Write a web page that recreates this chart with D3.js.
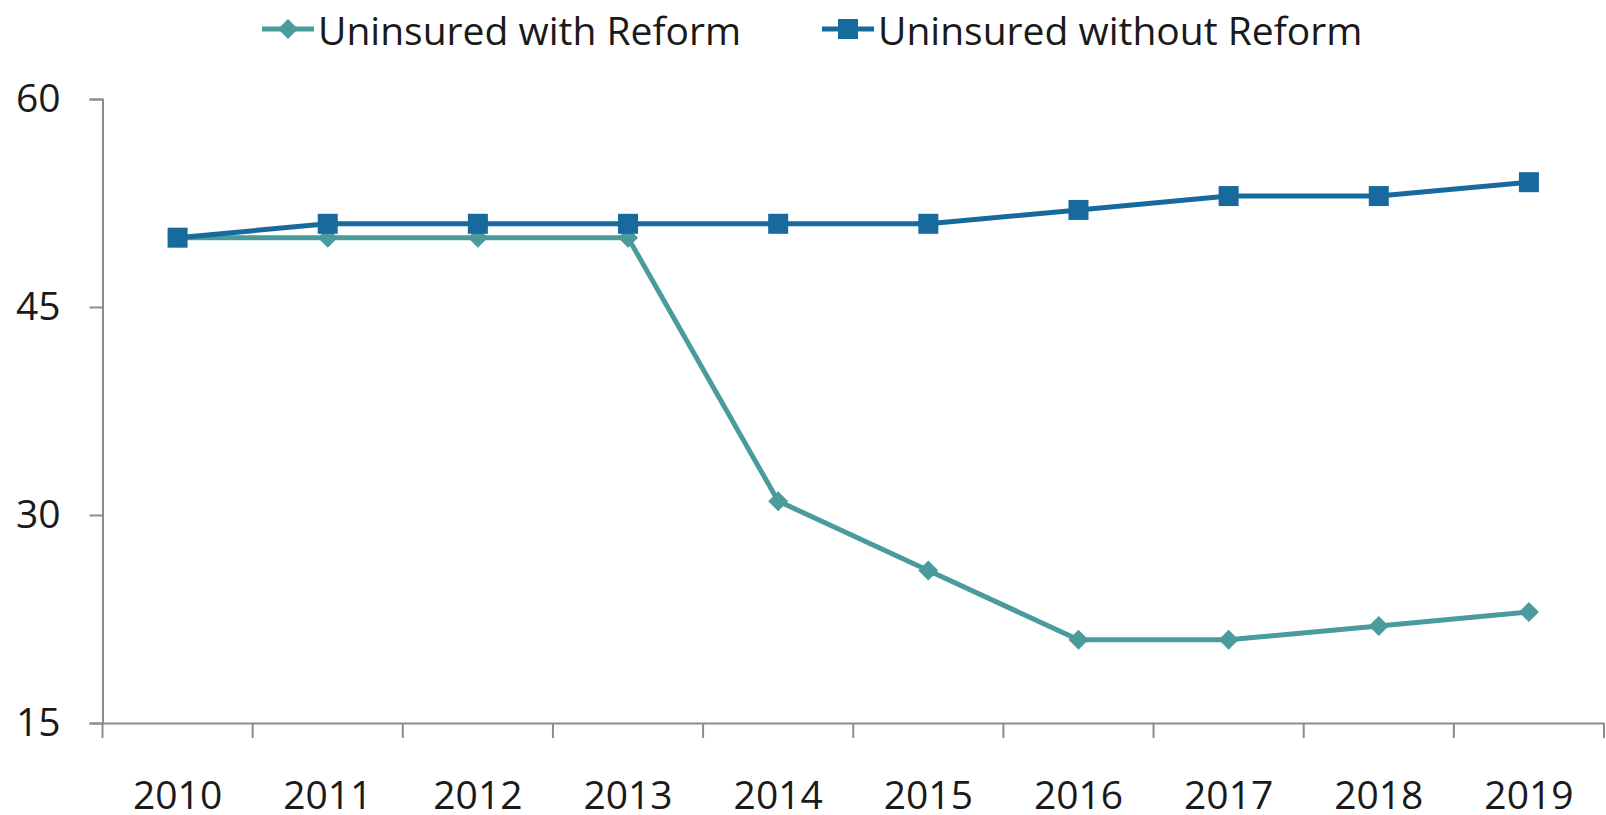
<!DOCTYPE html>
<html>
<head>
<meta charset="utf-8">
<script src="https://cdn.jsdelivr.net/npm/d3@7"></script>
<style>
  body { margin: 0; background: #fff; }
  text { font-family: "Open Sans", sans-serif; fill: #1a1a1a; }
</style>
</head>
<body>
<div id="chart"></div>
<script>
const years = ["2010", "2011", "2012", "2013", "2014", "2015", "2016", "2017", "2018", "2019"];
const withReform = [50, 50, 50, 50, 31, 26, 21, 21, 22, 23];
const withoutReform = [50, 51, 51, 51, 51, 51, 52, 53, 53, 54];
const yTicks = [15, 30, 45, 60];
const seriesNames = ["Uninsured with Reform", "Uninsured without Reform"];

const width = 1606;
const height = 815;
const teal = "#4a9b9b";
const blue = "#17699e";
const axisColor = "#8c8c8c";
const fontSize = "39px";

const svg = d3.select("#chart")
  .append("svg")
  .attr("width", width)
  .attr("height", height);

const x = d3.scaleBand().domain(years).range([102.5, 1604]);
const y = d3.scaleLinear().domain([15, 60]).range([723, 99]);

// y axis
const yAxis = svg.append("g")
  .attr("transform", `translate(${x.range()[0]},0)`)
  .call(d3.axisLeft(y).tickValues(yTicks).tickSize(13).tickPadding(29));
yAxis.select(".domain").attr("stroke", axisColor).attr("stroke-width", 2);
yAxis.selectAll(".tick line").attr("stroke", axisColor).attr("stroke-width", 2);
yAxis.selectAll(".tick text").style("font-size", fontSize).attr("fill", "#1a1a1a");

// x axis
const xAxis = svg.append("g")
  .attr("transform", `translate(0,${y(15)})`)
  .call(d3.axisBottom(x).tickSize(0).tickPadding(0));
xAxis.select(".domain").attr("stroke", axisColor).attr("stroke-width", 2);
xAxis.selectAll(".tick text")
  .style("font-size", fontSize)
  .attr("fill", "#1a1a1a")
  .attr("y", 58)
  .attr("dy", "0.71em");

// ticks sit between the categories
const bounds = years.map((d) => x(d)).concat([x.range()[1]]);
xAxis.selectAll(".bound")
  .data(bounds)
  .enter()
  .append("line")
  .attr("class", "bound")
  .attr("x1", (d) => d)
  .attr("x2", (d) => d)
  .attr("y1", 0)
  .attr("y2", 15)
  .attr("stroke", axisColor)
  .attr("stroke-width", 2);

const cx = (d, i) => x(years[i]) + x.bandwidth() / 2;
const diamond = (r) => `M0,${-r}L${r},0L0,${r}L${-r},0Z`;

const line = d3.line().x(cx).y((d) => y(d));

// with reform (teal, diamonds)
svg.append("path")
  .datum(withReform)
  .attr("d", line)
  .attr("fill", "none")
  .attr("stroke", teal)
  .attr("stroke-width", 5);

svg.selectAll(".dia")
  .data(withReform)
  .enter()
  .append("path")
  .attr("class", "dia")
  .attr("d", diamond(10))
  .attr("transform", (d, i) => `translate(${cx(d, i)},${y(d)})`)
  .attr("fill", teal);

// without reform (blue, squares)
svg.append("path")
  .datum(withoutReform)
  .attr("d", line)
  .attr("fill", "none")
  .attr("stroke", blue)
  .attr("stroke-width", 5);

svg.selectAll(".sq")
  .data(withoutReform)
  .enter()
  .append("rect")
  .attr("class", "sq")
  .attr("x", (d, i) => cx(d, i) - 10)
  .attr("y", (d) => y(d) - 10)
  .attr("width", 20)
  .attr("height", 20)
  .attr("fill", blue);

// legend
const legend = [
  { name: seriesNames[0], color: teal, shape: "diamond", x: 262 },
  { name: seriesNames[1], color: blue, shape: "square", x: 822 },
];
const lg = svg.selectAll(".legend")
  .data(legend)
  .enter()
  .append("g")
  .attr("class", "legend")
  .attr("transform", (d) => `translate(${d.x},29)`);

lg.append("line")
  .attr("x1", 0)
  .attr("x2", 52)
  .attr("stroke", (d) => d.color)
  .attr("stroke-width", 5);

lg.each(function (d) {
  const g = d3.select(this);
  if (d.shape === "diamond") {
    g.append("path").attr("d", diamond(10)).attr("transform", "translate(26,0)").attr("fill", d.color);
  } else {
    g.append("rect").attr("x", 16).attr("y", -10).attr("width", 20).attr("height", 20).attr("fill", d.color);
  }
});

lg.append("text")
  .attr("x", 56)
  .attr("y", 2)
  .attr("dy", "0.35em")
  .style("font-size", fontSize)
  .text((d) => d.name);
</script>
</body>
</html>
